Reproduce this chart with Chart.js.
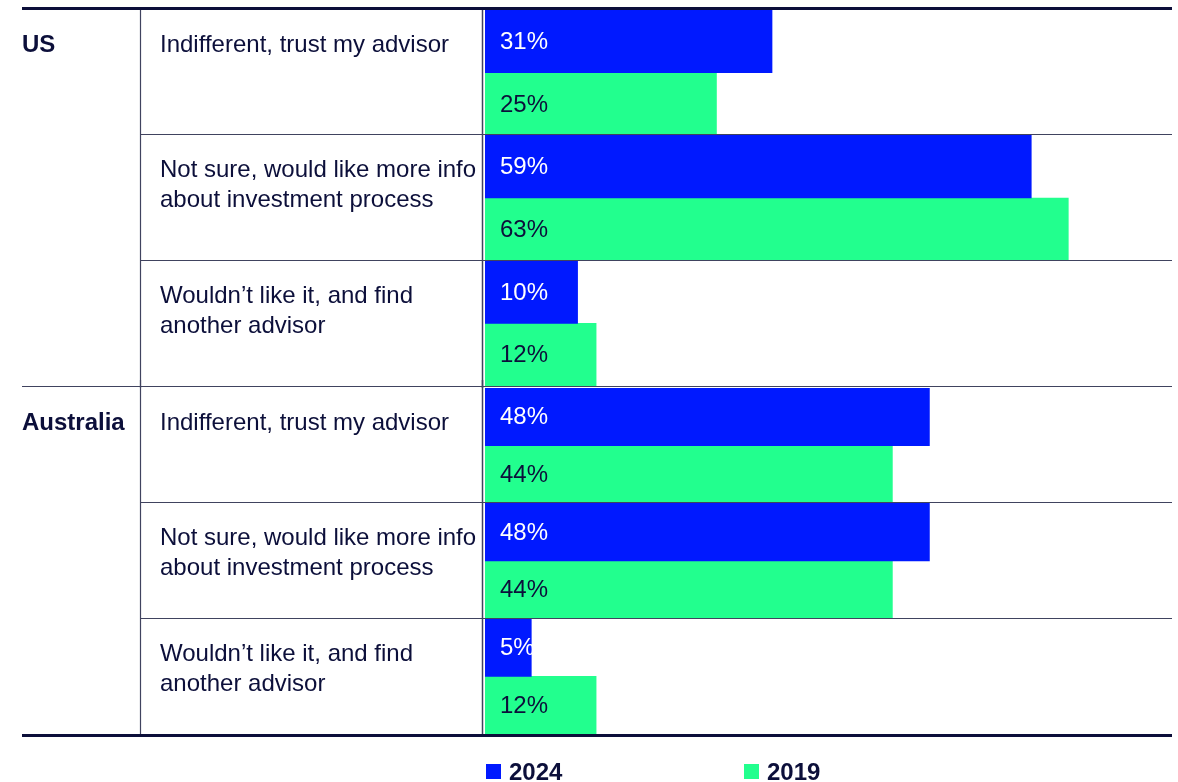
<!DOCTYPE html>
<html>
<head>
<meta charset="utf-8">
<script src="https://cdn.jsdelivr.net/npm/chart.js@4/dist/chart.umd.min.js"></script>
<style>
  html, body { margin: 0; padding: 0; background: #ffffff; }
  #wrap { position: relative; width: 1178px; height: 782px; overflow: hidden; background: #ffffff; }
  canvas { position: absolute; left: 0; }
  #usChart { top: 0; }
  #auChart { top: 380px; }
</style>
</head>
<body>
<div id="wrap">
  <canvas id="usChart" width="1178" height="388"></canvas>
  <canvas id="auChart" width="1178" height="402"></canvas>
</div>
<script>
// Survey answers (rows) and the two survey years
const groups = ['US', 'Australia'];
const answers = [
  ['Indifferent, trust my advisor'],
  ['Not sure, would like more info', 'about investment process'],
  ['Wouldn\u2019t like it, and find', 'another advisor']
];
const years = ['2024', '2019'];
const us2024 = [31, 59, 10];
const us2019 = [25, 63, 12];
const au2024 = [48, 48, 5];
const au2019 = [44, 44, 12];

const BLUE = '#0019ff';
const GREEN = '#22ff8e';
const INK = '#0c0f3a';
const RULE = '#40435f';
const FONT = '"Liberation Sans", Arial, Helvetica, sans-serif';

const LEFT_EDGE = 22;
const RIGHT_EDGE = 1172;
const COL1 = 140.5;
const COL2 = 482.5;

function hLine(ctx, x1, x2, y, w, color) {
  ctx.save();
  ctx.strokeStyle = color;
  ctx.lineWidth = w;
  ctx.beginPath();
  ctx.moveTo(x1, y);
  ctx.lineTo(x2, y);
  ctx.stroke();
  ctx.restore();
}
function vLine(ctx, x, y1, y2, w, color) {
  ctx.save();
  ctx.strokeStyle = color;
  ctx.lineWidth = w;
  ctx.beginPath();
  ctx.moveTo(x, y1);
  ctx.lineTo(x, y2);
  ctx.stroke();
  ctx.restore();
}

// Table frame, row captions, value labels and legend drawn around the bars
const tablePlugin = {
  id: 'tableFrame',
  afterDatasetsDraw(chart, args, opts) {
    const ctx = chart.ctx;
    const area = chart.chartArea;
    const yScale = chart.scales.y;
    const n = chart.data.labels.length;
    const rowH = (area.bottom - area.top) / n;

    // value labels inside the bars
    ctx.save();
    ctx.font = '24px ' + FONT;
    ctx.textAlign = 'left';
    ctx.textBaseline = 'middle';
    chart.data.datasets.forEach((ds, di) => {
      const meta = chart.getDatasetMeta(di);
      meta.data.forEach((el, i) => {
        ctx.fillStyle = di === 0 ? '#ffffff' : INK;
        ctx.fillText(ds.data[i] + '%', area.left + 15, el.y + 1);
      });
    });
    ctx.restore();

    // row captions
    ctx.save();
    ctx.fillStyle = INK;
    ctx.textAlign = 'left';
    ctx.textBaseline = 'alphabetic';
    chart.data.labels.forEach((lab, i) => {
      const top = yScale.getPixelForValue(i) - rowH / 2;
      ctx.font = '24px ' + FONT;
      lab.forEach((line, k) => ctx.fillText(line, 160, top + 42 + k * 30));
      if (i === 0) {
        ctx.font = 'bold 24px ' + FONT;
        ctx.fillText(opts.group, LEFT_EDGE, top + 42);
      }
    });
    ctx.restore();

    // rules between answer rows
    for (let i = 1; i < n; i++) {
      const y = Math.round(area.top + rowH * i) - 0.5;
      hLine(ctx, COL1, RIGHT_EDGE, y, 1.2, RULE);
    }
    // column rules
    vLine(ctx, COL1, opts.vTop, opts.vBottom, 1.2, RULE);
    vLine(ctx, COL2, opts.vTop, opts.vBottom, 1.5, RULE);

    if (opts.topRule !== undefined) hLine(ctx, LEFT_EDGE, RIGHT_EDGE, opts.topRule, 3, INK);
    if (opts.groupRule !== undefined) hLine(ctx, LEFT_EDGE, RIGHT_EDGE, opts.groupRule, 1.2, RULE);
    if (opts.bottomRule !== undefined) hLine(ctx, LEFT_EDGE, RIGHT_EDGE, opts.bottomRule, 3, INK);

    // legend
    if (opts.legendY !== undefined) {
      const xs = [486, 744];
      ctx.save();
      ctx.font = 'bold 24px ' + FONT;
      ctx.textBaseline = 'alphabetic';
      chart.data.datasets.forEach((ds, di) => {
        ctx.fillStyle = ds.backgroundColor;
        ctx.fillRect(xs[di], opts.legendY, 15, 15);
        ctx.fillStyle = INK;
        ctx.fillText(ds.label, xs[di] + 23, opts.legendY + 16);
      });
      ctx.restore();
    }
  }
};

function makeChart(id, group, v2024, v2019, padding, frame) {
  return new Chart(document.getElementById(id), {
    type: 'bar',
    data: {
      labels: answers,
      datasets: [
        { label: years[0], data: v2024, backgroundColor: BLUE, borderWidth: 0 },
        { label: years[1], data: v2019, backgroundColor: GREEN, borderWidth: 0 }
      ]
    },
    options: {
      indexAxis: 'y',
      responsive: false,
      devicePixelRatio: 1,
      animation: false,
      layout: { padding: padding },
      datasets: { bar: { categoryPercentage: 1, barPercentage: 1 } },
      scales: {
        x: { min: 0, max: 74.2, display: false, grid: { display: false } },
        y: { display: false, grid: { display: false } }
      },
      plugins: {
        legend: { display: false },
        tooltip: { enabled: false },
        tableFrame: Object.assign({ group: group }, frame)
      }
    },
    plugins: [tablePlugin]
  });
}

makeChart('usChart', groups[0], us2024, us2019,
  { left: 485, right: 6, top: 10, bottom: 2 },
  { vTop: 9, vBottom: 388, topRule: 8.5, groupRule: 386.5 });

makeChart('auChart', groups[1], au2024, au2019,
  { left: 485, right: 6, top: 8, bottom: 48 },
  { vTop: 0, vBottom: 356, bottomRule: 355.5, legendY: 384 });
</script>
</body>
</html>
